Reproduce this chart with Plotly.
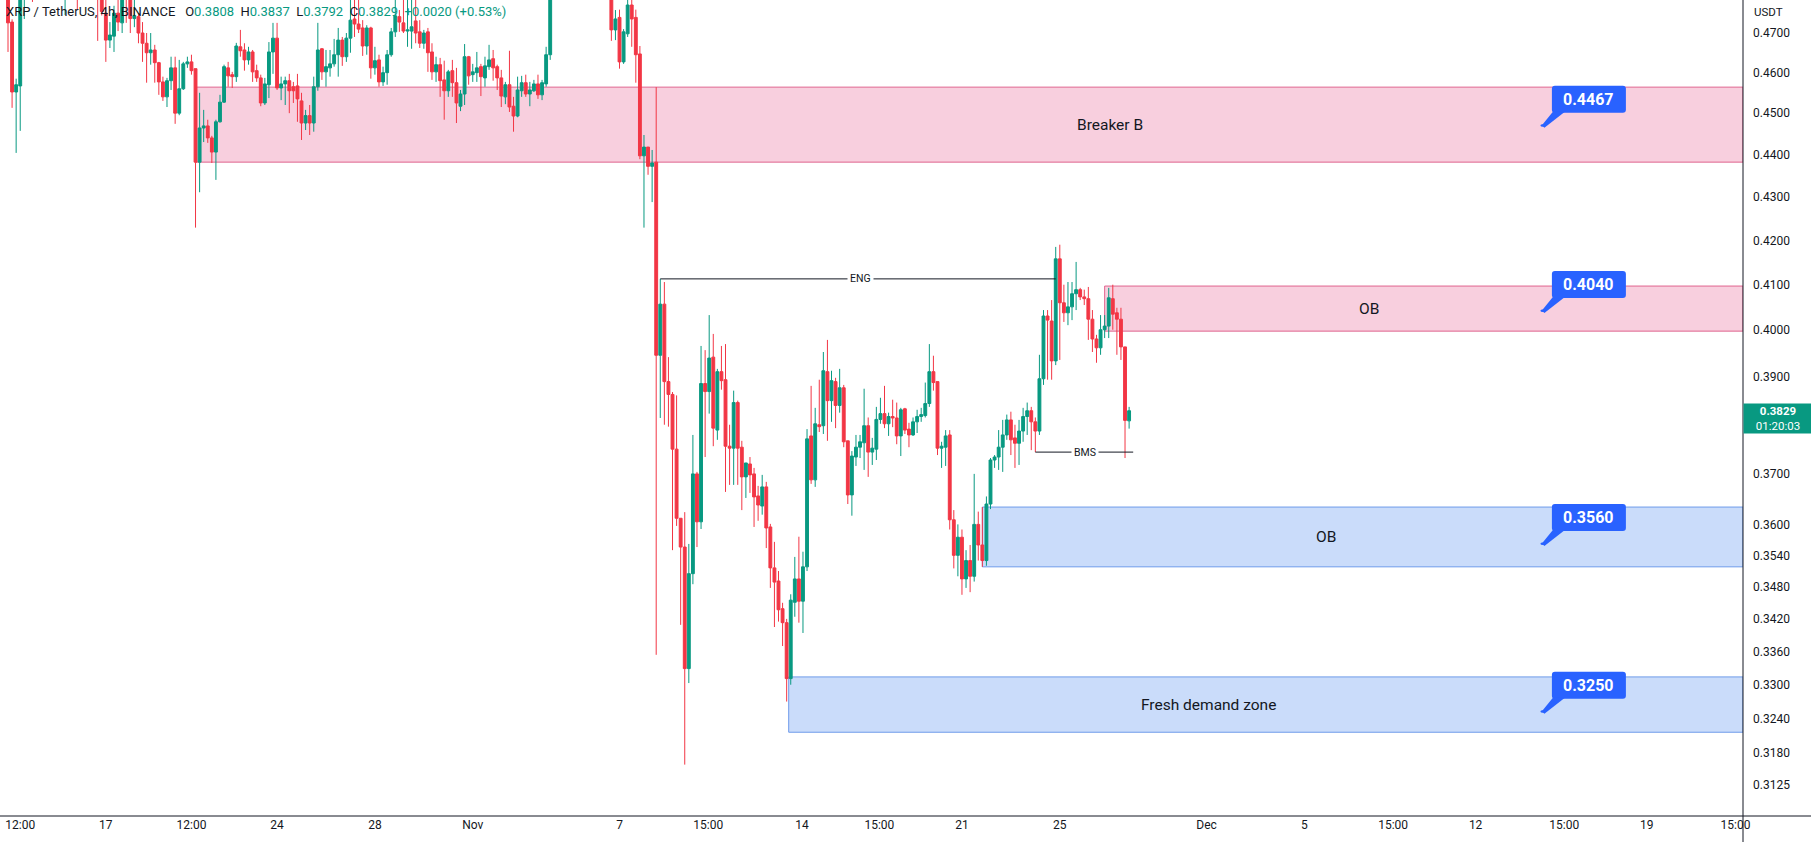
import numpy as np
import pandas as pd
import plotly.graph_objects as go

# ---------------- data (XRP/USDT 4h) ----------------
first_candle = "2022-10-13 00:00"

opens = [
    0.4880, 0.4728, 0.4552, 0.4567, 0.4850, 0.4900, 0.4920, 0.4880, 0.4930, 0.4960,
    0.4940, 0.4900, 0.4920, 0.4890, 0.4850, 0.4870, 0.4910, 0.4880, 0.4850, 0.4880,
    0.4860, 0.4830, 0.4850, 0.4800, 0.4751, 0.4682, 0.4692, 0.4751, 0.4726, 0.4830,
    0.4800, 0.4737, 0.4742, 0.4700, 0.4674, 0.4650, 0.4657, 0.4625, 0.4577, 0.4540,
    0.4580, 0.4612, 0.4500, 0.4560, 0.4622, 0.4627, 0.4610, 0.4382, 0.4464, 0.4469,
    0.4440, 0.4406, 0.4479, 0.4527, 0.4612, 0.4595, 0.4590, 0.4665, 0.4657, 0.4632,
    0.4652, 0.4605, 0.4587, 0.4525, 0.4570, 0.4652, 0.4687, 0.4562, 0.4572, 0.4580,
    0.4565, 0.4567, 0.4530, 0.4476, 0.4494, 0.4476, 0.4565, 0.4660, 0.4602, 0.4612,
    0.4622, 0.4645, 0.4682, 0.4640, 0.4687, 0.4736, 0.4723, 0.4713, 0.4667, 0.4713,
    0.4612, 0.4632, 0.4577, 0.4600, 0.4645, 0.4703, 0.4742, 0.4726, 0.4705, 0.4705,
    0.4731, 0.4703, 0.4674, 0.4703, 0.4652, 0.4602, 0.4620, 0.4582, 0.4555, 0.4605,
    0.4575, 0.4517, 0.4547, 0.4640, 0.4595, 0.4600, 0.4615, 0.4587, 0.4615, 0.4635,
    0.4615, 0.4587, 0.4540, 0.4570, 0.4517, 0.4493, 0.4555, 0.4575, 0.4547, 0.4555,
    0.4572, 0.4545, 0.4572, 0.4645, 0.4820, 0.4930, 0.5020, 0.4990, 0.5040, 0.5090,
    0.5050, 0.5010, 0.4980, 0.5020, 0.5000, 0.4950, 0.4910, 0.4880, 0.4860, 0.4708,
    0.4740, 0.4627, 0.4698, 0.4772, 0.4740, 0.4647, 0.4397, 0.4418, 0.4372, 0.4382,
    0.3946, 0.4057, 0.3890, 0.3863, 0.3750, 0.3612, 0.3556, 0.3329, 0.3505, 0.3700,
    0.3605, 0.3886, 0.3869, 0.3942, 0.3789, 0.3911, 0.3894, 0.3756, 0.3752, 0.3846,
    0.3754, 0.3694, 0.3720, 0.3700, 0.3656, 0.3636, 0.3674, 0.3595, 0.3516, 0.3491,
    0.3439, 0.3413, 0.3311, 0.3451, 0.3495, 0.3453, 0.3518, 0.3777, 0.3688, 0.3800,
    0.3798, 0.3911, 0.3850, 0.3890, 0.3840, 0.3877, 0.3767, 0.3658, 0.3734, 0.3754,
    0.3763, 0.3798, 0.3744, 0.3750, 0.3811, 0.3823, 0.3802, 0.3817, 0.3814, 0.3777,
    0.3833, 0.3791, 0.3779, 0.3806, 0.3817, 0.3819, 0.3844, 0.3911, 0.3890, 0.3752,
    0.3754, 0.3779, 0.3609, 0.3540, 0.3575, 0.3495, 0.3530, 0.3500, 0.3600, 0.3560,
    0.3530, 0.3640, 0.3728, 0.3734, 0.3754, 0.3779, 0.3810, 0.3773, 0.3762, 0.3787,
    0.3817, 0.3829, 0.3806, 0.3787, 0.3896, 0.4031, 0.4020, 0.3934, 0.4158, 0.4060,
    0.4038, 0.4051, 0.4080, 0.4089, 0.4073, 0.4069, 0.4024, 0.3981, 0.3962, 0.4001,
    0.4009, 0.4069, 0.4038, 0.4024, 0.3964, 0.3808,
]
highs = [
    0.4900, 0.4735, 0.4585, 0.4900, 0.4950, 0.4960, 0.4990, 0.4950, 0.5000, 0.5010,
    0.4980, 0.4950, 0.4970, 0.4930, 0.4900, 0.4940, 0.4960, 0.4920, 0.4910, 0.4930,
    0.4900, 0.4880, 0.4880, 0.4830, 0.4790, 0.4728, 0.4770, 0.4790, 0.4850, 0.4860,
    0.4830, 0.4790, 0.4751, 0.4728, 0.4700, 0.4700, 0.4670, 0.4627, 0.4590, 0.4587,
    0.4640, 0.4640, 0.4632, 0.4627, 0.4640, 0.4645, 0.4610, 0.4550, 0.4508, 0.4484,
    0.4445, 0.4484, 0.4545, 0.4620, 0.4627, 0.4602, 0.4675, 0.4708, 0.4674, 0.4665,
    0.4657, 0.4620, 0.4595, 0.4587, 0.4677, 0.4726, 0.4726, 0.4590, 0.4590, 0.4597,
    0.4577, 0.4597, 0.4550, 0.4508, 0.4520, 0.4590, 0.4726, 0.4662, 0.4657, 0.4657,
    0.4685, 0.4713, 0.4690, 0.4700, 0.4790, 0.4800, 0.4790, 0.4733, 0.4720, 0.4716,
    0.4665, 0.4645, 0.4615, 0.4657, 0.4713, 0.4790, 0.4759, 0.4800, 0.4800, 0.4800,
    0.4790, 0.4733, 0.4708, 0.4713, 0.4674, 0.4640, 0.4637, 0.4630, 0.4607, 0.4632,
    0.4612, 0.4557, 0.4672, 0.4642, 0.4622, 0.4652, 0.4622, 0.4640, 0.4670, 0.4657,
    0.4620, 0.4607, 0.4577, 0.4655, 0.4540, 0.4590, 0.4592, 0.4595, 0.4577, 0.4582,
    0.4595, 0.4582, 0.4665, 0.4850, 0.4950, 0.5050, 0.5080, 0.5060, 0.5120, 0.5130,
    0.5100, 0.5060, 0.5040, 0.5070, 0.5030, 0.5000, 0.4960, 0.4920, 0.4900, 0.4759,
    0.4760, 0.4710, 0.4800, 0.4790, 0.4760, 0.4667, 0.4447, 0.4418, 0.4411, 0.4564,
    0.4113, 0.4106, 0.3942, 0.3868, 0.3861, 0.3612, 0.3624, 0.3562, 0.3779, 0.3704,
    0.3966, 0.3957, 0.4033, 0.3992, 0.3917, 0.3966, 0.3970, 0.3800, 0.3871, 0.3850,
    0.3767, 0.3722, 0.3734, 0.3712, 0.3676, 0.3698, 0.3684, 0.3601, 0.3566, 0.3510,
    0.3450, 0.3420, 0.3466, 0.3537, 0.3576, 0.3547, 0.3791, 0.3881, 0.3835, 0.3894,
    0.3953, 0.3979, 0.3913, 0.3898, 0.3917, 0.3883, 0.3767, 0.3746, 0.3779, 0.3779,
    0.3875, 0.3815, 0.3773, 0.3837, 0.3856, 0.3881, 0.3825, 0.3852, 0.3846, 0.3835,
    0.3835, 0.3804, 0.3815, 0.3831, 0.3835, 0.3888, 0.3970, 0.3945, 0.3890, 0.3765,
    0.3789, 0.3789, 0.3628, 0.3600, 0.3590, 0.3550, 0.3560, 0.3700, 0.3625, 0.3634,
    0.3655, 0.3732, 0.3738, 0.3789, 0.3810, 0.3821, 0.3827, 0.3800, 0.3810, 0.3835,
    0.3846, 0.3837, 0.3815, 0.3947, 0.4044, 0.4044, 0.4066, 0.4185, 0.4190, 0.4100,
    0.4106, 0.4106, 0.4151, 0.4093, 0.4089, 0.4095, 0.4044, 0.3990, 0.4033, 0.4033,
    0.4093, 0.4100, 0.4049, 0.4049, 0.3964, 0.3837,
]
lows = [
    0.4652, 0.4513, 0.4404, 0.4457, 0.4736, 0.4850, 0.4780, 0.4830, 0.4900, 0.4910,
    0.4880, 0.4850, 0.4870, 0.4820, 0.4746, 0.4840, 0.4860, 0.4759, 0.4810, 0.4830,
    0.4800, 0.4790, 0.4680, 0.4745, 0.4627, 0.4662, 0.4652, 0.4705, 0.4700, 0.4726,
    0.4700, 0.4715, 0.4674, 0.4627, 0.4575, 0.4620, 0.4575, 0.4545, 0.4530, 0.4515,
    0.4557, 0.4474, 0.4495, 0.4557, 0.4612, 0.4595, 0.4229, 0.4311, 0.4430, 0.4428,
    0.4380, 0.4340, 0.4477, 0.4525, 0.4565, 0.4562, 0.4577, 0.4640, 0.4605, 0.4620,
    0.4577, 0.4577, 0.4517, 0.4520, 0.4537, 0.4597, 0.4557, 0.4532, 0.4520, 0.4500,
    0.4525, 0.4479, 0.4435, 0.4459, 0.4447, 0.4455, 0.4555, 0.4582, 0.4565, 0.4590,
    0.4615, 0.4590, 0.4617, 0.4627, 0.4650, 0.4690, 0.4700, 0.4642, 0.4645, 0.4585,
    0.4595, 0.4565, 0.4567, 0.4570, 0.4640, 0.4690, 0.4703, 0.4700, 0.4665, 0.4660,
    0.4674, 0.4662, 0.4660, 0.4602, 0.4582, 0.4577, 0.4540, 0.4484, 0.4540, 0.4540,
    0.4476, 0.4505, 0.4520, 0.4570, 0.4577, 0.4577, 0.4542, 0.4565, 0.4607, 0.4580,
    0.4557, 0.4515, 0.4522, 0.4503, 0.4455, 0.4490, 0.4540, 0.4540, 0.4517, 0.4552,
    0.4535, 0.4532, 0.4565, 0.4632, 0.4800, 0.4900, 0.4960, 0.4950, 0.5000, 0.5020,
    0.4980, 0.4950, 0.4940, 0.4970, 0.4920, 0.4880, 0.4850, 0.4820, 0.4680, 0.4682,
    0.4610, 0.4622, 0.4690, 0.4665, 0.4575, 0.4389, 0.4229, 0.4352, 0.4288, 0.3354,
    0.3814, 0.3800, 0.3796, 0.3550, 0.3597, 0.3409, 0.3160, 0.3303, 0.3485, 0.3556,
    0.3591, 0.3734, 0.3823, 0.3756, 0.3769, 0.3873, 0.3664, 0.3678, 0.3678, 0.3678,
    0.3628, 0.3652, 0.3662, 0.3595, 0.3607, 0.3619, 0.3554, 0.3478, 0.3405, 0.3415,
    0.3370, 0.3270, 0.3300, 0.3424, 0.3413, 0.3394, 0.3510, 0.3680, 0.3674, 0.3785,
    0.3781, 0.3767, 0.3806, 0.3793, 0.3825, 0.3754, 0.3640, 0.3617, 0.3716, 0.3732,
    0.3708, 0.3694, 0.3718, 0.3728, 0.3802, 0.3793, 0.3777, 0.3795, 0.3760, 0.3736,
    0.3781, 0.3754, 0.3777, 0.3783, 0.3806, 0.3815, 0.3837, 0.3871, 0.3738, 0.3712,
    0.3716, 0.3590, 0.3515, 0.3500, 0.3465, 0.3478, 0.3470, 0.3490, 0.3530, 0.3518,
    0.3520, 0.3630, 0.3712, 0.3708, 0.3704, 0.3769, 0.3738, 0.3712, 0.3718, 0.3765,
    0.3779, 0.3748, 0.3744, 0.3779, 0.3883, 0.3894, 0.3894, 0.3925, 0.3936, 0.4018,
    0.4011, 0.4022, 0.4044, 0.4066, 0.4055, 0.3979, 0.3953, 0.3930, 0.3947, 0.3983,
    0.3983, 0.4001, 0.3947, 0.3936, 0.3732, 0.3792,
]
closes = [
    0.4726, 0.4552, 0.4570, 0.4850, 0.4900, 0.4920, 0.4880, 0.4930, 0.4960, 0.4940,
    0.4900, 0.4920, 0.4890, 0.4850, 0.4870, 0.4910, 0.4880, 0.4850, 0.4880, 0.4860,
    0.4830, 0.4850, 0.4800, 0.4755, 0.4682, 0.4695, 0.4751, 0.4728, 0.4830, 0.4800,
    0.4737, 0.4745, 0.4700, 0.4674, 0.4650, 0.4657, 0.4625, 0.4577, 0.4540, 0.4580,
    0.4612, 0.4500, 0.4560, 0.4622, 0.4627, 0.4605, 0.4382, 0.4464, 0.4469, 0.4440,
    0.4406, 0.4479, 0.4527, 0.4615, 0.4592, 0.4590, 0.4667, 0.4655, 0.4632, 0.4652,
    0.4602, 0.4587, 0.4525, 0.4572, 0.4652, 0.4687, 0.4562, 0.4572, 0.4580, 0.4555,
    0.4555, 0.4535, 0.4476, 0.4494, 0.4476, 0.4565, 0.4657, 0.4602, 0.4615, 0.4622,
    0.4645, 0.4682, 0.4640, 0.4687, 0.4733, 0.4723, 0.4710, 0.4667, 0.4713, 0.4612,
    0.4630, 0.4577, 0.4600, 0.4645, 0.4703, 0.4744, 0.4728, 0.4705, 0.4708, 0.4716,
    0.4700, 0.4674, 0.4700, 0.4650, 0.4602, 0.4620, 0.4580, 0.4555, 0.4602, 0.4575,
    0.4525, 0.4547, 0.4640, 0.4592, 0.4602, 0.4612, 0.4590, 0.4617, 0.4632, 0.4612,
    0.4587, 0.4542, 0.4570, 0.4515, 0.4493, 0.4557, 0.4575, 0.4547, 0.4557, 0.4572,
    0.4545, 0.4575, 0.4645, 0.4820, 0.4930, 0.5020, 0.4990, 0.5040, 0.5090, 0.5050,
    0.5010, 0.4980, 0.5020, 0.5000, 0.4950, 0.4910, 0.4880, 0.4860, 0.4708, 0.4736,
    0.4627, 0.4703, 0.4772, 0.4736, 0.4645, 0.4397, 0.4418, 0.4372, 0.4380, 0.3946,
    0.4057, 0.3890, 0.3863, 0.3750, 0.3612, 0.3556, 0.3329, 0.3505, 0.3700, 0.3605,
    0.3886, 0.3869, 0.3940, 0.3793, 0.3911, 0.3892, 0.3756, 0.3752, 0.3846, 0.3752,
    0.3694, 0.3722, 0.3698, 0.3654, 0.3638, 0.3674, 0.3593, 0.3516, 0.3489, 0.3437,
    0.3413, 0.3311, 0.3455, 0.3495, 0.3453, 0.3518, 0.3771, 0.3688, 0.3802, 0.3796,
    0.3913, 0.3850, 0.3892, 0.3840, 0.3877, 0.3765, 0.3658, 0.3736, 0.3754, 0.3765,
    0.3798, 0.3744, 0.3752, 0.3811, 0.3823, 0.3802, 0.3817, 0.3814, 0.3777, 0.3831,
    0.3789, 0.3779, 0.3806, 0.3817, 0.3821, 0.3844, 0.3911, 0.3888, 0.3752, 0.3756,
    0.3777, 0.3609, 0.3540, 0.3575, 0.3495, 0.3530, 0.3500, 0.3600, 0.3560, 0.3530,
    0.3640, 0.3728, 0.3734, 0.3754, 0.3779, 0.3810, 0.3769, 0.3762, 0.3787, 0.3817,
    0.3829, 0.3806, 0.3787, 0.3896, 0.4031, 0.4022, 0.3934, 0.4158, 0.4060, 0.4038,
    0.4051, 0.4080, 0.4089, 0.4073, 0.4069, 0.4024, 0.3981, 0.3962, 0.4001, 0.4009,
    0.4071, 0.4035, 0.4024, 0.3964, 0.3809, 0.3829,
]

# price-scale ticks (right axis)
ytick_vals = [0.47, 0.46, 0.45, 0.44, 0.43, 0.42, 0.41, 0.40, 0.39, 0.37, 0.36,
              0.354, 0.348, 0.342, 0.336, 0.33, 0.324, 0.318, 0.3125]
ytick_text = ["0.4700", "0.4600", "0.4500", "0.4400", "0.4300", "0.4200", "0.4100",
              "0.4000", "0.3900", "0.3700", "0.3600", "0.3540", "0.3480", "0.3420",
              "0.3360", "0.3300", "0.3240", "0.3180", "0.3125"]

# time-scale ticks (bottom axis)
xtick_vals = ["2022-10-13 12:00", "2022-10-17", "2022-10-20 12:00", "2022-10-24",
              "2022-10-28", "2022-11-01", "2022-11-07", "2022-11-10 15:00",
              "2022-11-14 11:00", "2022-11-17 15:00", "2022-11-21", "2022-11-25",
              "2022-12-01", "2022-12-05", "2022-12-08 15:00", "2022-12-12",
              "2022-12-15 15:00", "2022-12-19", "2022-12-22 15:00"]
xtick_text = ["12:00", "17", "12:00", "24", "28", "Nov", "7", "15:00", "14", "15:00",
              "21", "25", "Dec", "5", "15:00", "12", "15:00", "19", "15:00"]

x_range = ["2022-10-12 16:09", "2022-12-22 22:20"]
y_range_prices = [0.30731, 0.47850]

# zones drawn on the chart
zone_names = ["Breaker B", "OB", "OB", "Fresh demand zone"]
zone_start = ["2022-10-20 16:00", "2022-11-26 20:00", "2022-11-21 20:00", "2022-11-13 22:00"]
zone_low = [0.4382, 0.3998, 0.3518, 0.3216]
zone_high = [0.4564, 0.4097, 0.3634, 0.3314]
zone_kind = ["supply", "supply", "demand", "demand"]
zone_label_time = ["2022-11-27 01:00", "2022-12-07 15:00", "2022-12-05 21:00", "2022-12-01 01:30"]

# price callouts
callout_prices = [0.4467, 0.4040, 0.3560, 0.3250]
callout_time = "2022-12-14 18:00"

# structure lines
struct_names = ["ENG", "BMS"]
struct_levels = [0.4113, 0.3744]
struct_start = ["2022-11-08 16:00", "2022-11-24 00:00"]
struct_end = ["2022-11-24 20:00", "2022-11-28 00:00"]
struct_label_time = ["2022-11-16 20:00", "2022-11-26 00:45"]

countdown = "01:20:03"
symbol_title = "XRP / TetherUS, 4h, BINANCE"

# ---------------- styling ----------------
UP = "#089981"
DOWN = "#F23645"
TXT = "#131722"
FONT = "Roboto, 'Liberation Sans', Arial, sans-serif"
W, H = 1811, 842
ML, MR, MT, MB = 0, 68, 0, 26
zone_style = {
    "supply": dict(fill="rgba(242, 160, 190, 0.50)", line="#E0648F"),
    "demand": dict(fill="rgba(150, 185, 245, 0.50)", line="#6E9BEA"),
}
CALLOUT_BLUE = "#2962FF"

times = pd.date_range(first_candle, periods=len(opens), freq="4h")

fig = go.Figure()
fig.add_trace(go.Candlestick(
    x=times, open=opens, high=highs, low=lows, close=closes,
    increasing=dict(line=dict(color=UP, width=1), fillcolor=UP),
    decreasing=dict(line=dict(color=DOWN, width=1), fillcolor=DOWN),
    whiskerwidth=0, hoverinfo="skip", showlegend=False,
))

shapes = []
annotations = []

# zones
for name, x0, lo, hi, kind, lx in zip(zone_names, zone_start, zone_low, zone_high,
                                      zone_kind, zone_label_time):
    st = zone_style[kind]
    shapes.append(dict(type="rect", xref="x", yref="y", x0=x0, x1=x_range[1],
                       y0=lo, y1=hi, fillcolor=st["fill"],
                       line=dict(color=st["line"], width=1), layer="below"))
    annotations.append(dict(x=lx, y=float(np.log10(np.sqrt(lo * hi))), xref="x", yref="y",
                            text=name, showarrow=False,
                            font=dict(family=FONT, size=15.5, color=TXT)))

# structure lines (ENG / BMS)
for name, lvl, x0, x1, lx in zip(struct_names, struct_levels, struct_start, struct_end,
                                 struct_label_time):
    shapes.append(dict(type="line", xref="x", yref="y", x0=x0, x1=x1, y0=lvl, y1=lvl,
                       line=dict(color=TXT, width=1)))
    annotations.append(dict(x=lx, y=float(np.log10(lvl)), xref="x", yref="y", text=name,
                            showarrow=False, bgcolor="white", borderpad=2,
                            font=dict(family=FONT, size=10.5, color=TXT)))

# price callouts (pixel-sized, anchored to price level)
box_path = ("M 12,14 L 80,14 Q 83,14 83,17 L 83,38 Q 83,41 80,41 L 12,41 "
            "Q 9,41 9,38 L 9,17 Q 9,14 12,14 Z")
tail_path = "M 10,15 L 22,15 L 1.5,-1 L -1,1.5 Z"
for p in callout_prices:
    for path in (box_path, tail_path):
        shapes.append(dict(type="path", xref="x", yref="y", xsizemode="pixel",
                           ysizemode="pixel", xanchor=callout_time, yanchor=p, path=path,
                           fillcolor=CALLOUT_BLUE, line=dict(width=0)))
    shapes.append(dict(type="circle", xref="x", yref="y", xsizemode="pixel",
                       ysizemode="pixel", xanchor=callout_time, yanchor=p,
                       x0=-2.5, x1=2.5, y0=-2.5, y1=2.5,
                       fillcolor=CALLOUT_BLUE, line=dict(width=0)))
    annotations.append(dict(x=callout_time, y=float(np.log10(p)), xref="x", yref="y",
                            text=f"<b>{p:.4f}</b>", showarrow=False, xshift=46, yshift=27.5,
                            font=dict(family=FONT, size=16, color="white")))

# pane separators
shapes.append(dict(type="line", xref="paper", yref="paper", x0=1, x1=1,
                   y0=-MB / (H - MT - MB), y1=1, line=dict(color=TXT, width=1)))
shapes.append(dict(type="line", xref="paper", yref="paper", x0=0,
                   x1=W / (W - ML - MR), y0=0, y1=0, line=dict(color=TXT, width=1)))

# last-price label on the price scale
last_close = closes[-1]
annotations.append(dict(xref="paper", yref="y", x=1, y=float(np.log10(last_close)),
                        xanchor="left", yanchor="top", xshift=0, yshift=8,
                        showarrow=False, width=64, height=25, borderpad=2,
                        bgcolor=UP, align="center", valign="middle",
                        text=f"<b>{last_close:.4f}</b><br>{countdown}",
                        font=dict(family=FONT, size=11.5, color="white")))
annotations.append(dict(xref="paper", yref="paper", x=1, y=1, xanchor="left",
                        yanchor="top", xshift=9, yshift=-3, showarrow=False, text="USDT",
                        font=dict(family=FONT, size=11.5, color=TXT)))

# legend header
chg = closes[-1] - closes[-2]
pct = chg / closes[-2] * 100
g = f'<span style="color:{UP}">'
header = (f'{symbol_title}&nbsp;&nbsp;&nbsp;O{g}{opens[-1]:.4f}</span>&nbsp;&nbsp;'
          f'H{g}{highs[-1]:.4f}</span>&nbsp;&nbsp;L{g}{lows[-1]:.4f}</span>&nbsp;&nbsp;'
          f'C{g}{closes[-1]:.4f}</span>&nbsp;&nbsp;{g}{chg:+.4f} ({pct:+.2f}%)</span>')
annotations.append(dict(xref="paper", yref="paper", x=0, y=1, xanchor="left",
                        yanchor="top", xshift=4, yshift=-2, showarrow=False, text=header,
                        font=dict(family=FONT, size=13, color=TXT)))

fig.update_layout(
    width=W, height=H, margin=dict(l=ML, r=MR, t=MT, b=MB),
    paper_bgcolor="white", plot_bgcolor="white",
    boxgap=0.3, boxgroupgap=0,
    shapes=shapes, annotations=annotations, showlegend=False,
    hovermode=False, dragmode=False,
    xaxis=dict(type="date", range=x_range, showgrid=False, zeroline=False,
               showline=False, ticks="", tickvals=xtick_vals, ticktext=xtick_text,
               tickfont=dict(family=FONT, size=12, color=TXT),
               rangeslider=dict(visible=False), fixedrange=True),
    yaxis=dict(type="log", side="right", range=[float(np.log10(v)) for v in y_range_prices],
               showgrid=False, zeroline=False, showline=False, ticks="",
               tickvals=ytick_vals, ticktext=ytick_text, ticklabelstandoff=9,
               tickfont=dict(family=FONT, size=12, color=TXT), fixedrange=True),
)

fig.write_html("out.html", config={"displayModeBar": False})
